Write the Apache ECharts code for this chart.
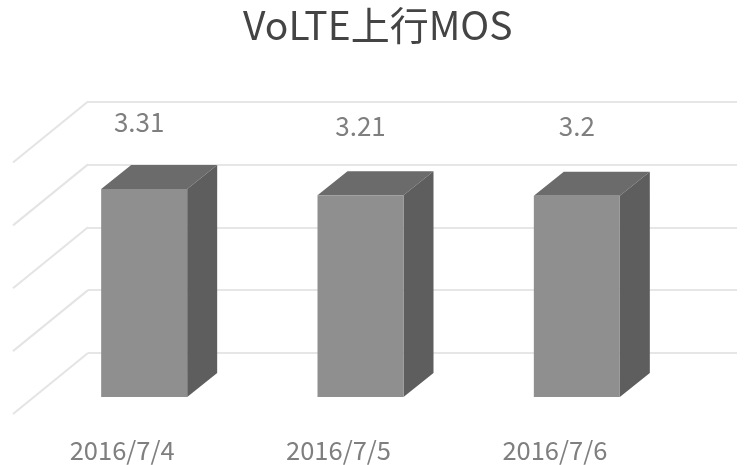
<!DOCTYPE html>
<html>
<head>
<meta charset="utf-8">
<style>html,body{margin:0;padding:0;background:#fff}#c{width:746px;height:465px}</style>
<script src="https://cdn.jsdelivr.net/npm/echarts@6/dist/echarts.min.js"></script>
</head>
<body>
<div id="c"></div>
<script>
var categories = ['2016/7/4', '2016/7/5', '2016/7/6'];
var values = [3.31, 3.21, 3.2];
var wallTicks = [0, 1, 2, 3, 4];

var FONT = '"Noto Sans CJK SC","Noto Sans",sans-serif';
var FRONT = [-52, 44], DEPTH = [30, -24], HALF = 43;
var WALL = [-75, 61];
var labelNudge = [[-5, -2], [0, -4], [0, -5]];

var chart = echarts.init(document.getElementById('c'), null, {renderer: 'canvas'});
chart.setOption({
  animation: false,
  backgroundColor: '#fff',
  title: {
    text: 'VoLTE上行MOS', left: 238, top: 1,
    textStyle: {fontFamily: FONT, fontSize: 39, fontWeight: 'normal', color: '#444'}
  },
  grid: {left: 88, right: 9, top: 101.5, bottom: 112},
  xAxis: {
    type: 'category', data: categories,
    axisLine: {show: false}, axisTick: {show: false},
    axisLabel: {
      margin: 85, color: '#7f7f7f', fontSize: 25.5, fontFamily: FONT,
      padding: [0, 148, 0, 0]
    }
  },
  yAxis: {
    type: 'value', min: 0, max: 4, interval: 1,
    axisLine: {show: false}, axisTick: {show: false}, axisLabel: {show: false},
    splitLine: {show: true, lineStyle: {color: '#e6e6e6', width: 2}}
  },
  series: [{
    type: 'custom', coordinateSystem: 'cartesian2d', silent: true, z: 1,
    encode: {y: 0},
    data: wallTicks.map(function (t) { return [t]; }),
    renderItem: function (p, api) {
      var s = api.coord([0, api.value(0)]);
      var x0 = p.coordSys.x, y0 = s[1];
      return {type: 'line',
        shape: {x1: x0, y1: y0, x2: x0 + WALL[0], y2: y0 + WALL[1]},
        style: {stroke: '#e4e4e4', lineWidth: 2, fill: null}};
    }
  }, {
    type: 'custom', coordinateSystem: 'cartesian2d', silent: true, z: 3,
    encode: {x: 0, y: 1},
    data: values.map(function (v, i) { return [i, v]; }),
    renderItem: function (p, api) {
      var i = api.value(0);
      var top = api.coord([i, api.value(1)]), base = api.coord([i, 0]);
      var cx = top[0] + FRONT[0], yt = top[1] + FRONT[1], yb = base[1] + FRONT[1];
      var l = cx - HALF, r = cx + HALF, dx = DEPTH[0], dy = DEPTH[1];
      var n = labelNudge[i];
      return {type: 'group', children: [
        {type: 'polygon', shape: {points: [[l, yt], [r, yt], [r + dx, yt + dy], [l + dx, yt + dy]]},
          style: {fill: '#6b6b6b'}},
        {type: 'polygon', shape: {points: [[r, yt], [r + dx, yt + dy], [r + dx, yb + dy], [r, yb]]},
          style: {fill: '#5e5e5e'}},
        {type: 'rect', shape: {x: l, y: yt, width: r - l, height: yb - yt},
          style: {fill: '#8f8f8f'}},
        {type: 'text', x: cx + n[0], y: yt - 65 + n[1],
          style: {text: String(api.value(1)), fill: '#7f7f7f', fontSize: 26, fontFamily: FONT,
            align: 'center', verticalAlign: 'middle'}}
      ]};
    }
  }]
});
</script>
</body>
</html>
